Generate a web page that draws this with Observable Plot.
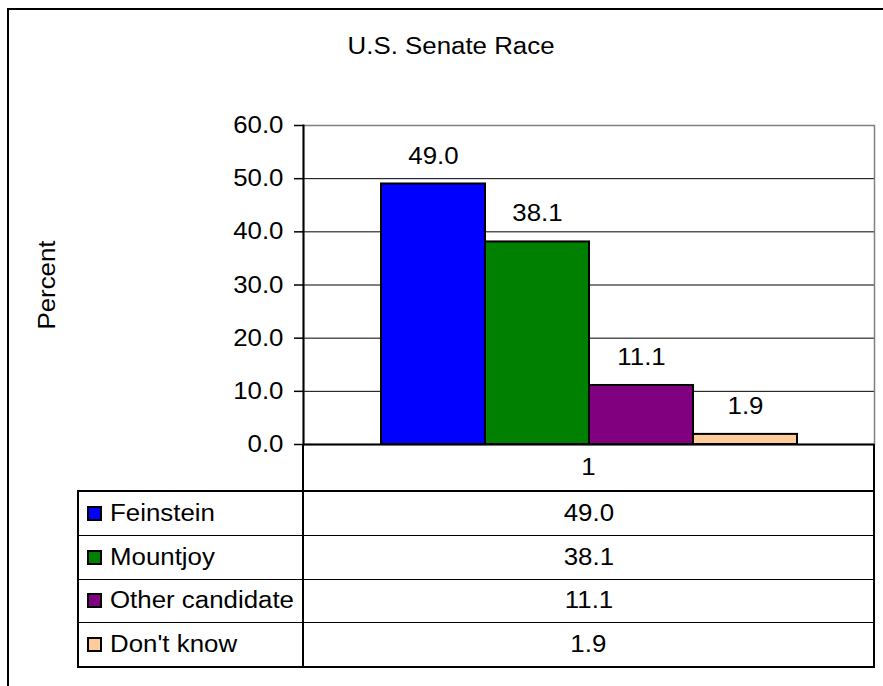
<!DOCTYPE html>
<html>
<head>
<meta charset="utf-8">
<script src="https://cdn.jsdelivr.net/npm/d3@7"></script>
<script src="https://cdn.jsdelivr.net/npm/@observablehq/plot@0.6"></script>
<style>
  html, body { margin: 0; padding: 0; background: #fff; }
  #page { position: relative; width: 883px; height: 686px; overflow: hidden;
          font-family: "Liberation Sans", Arial, sans-serif; color: #000; }
  #frame { position: absolute; left: 7px; top: 8px; width: 1000px; height: 800px;
           border: 2px solid #000; border-right: none; border-bottom: none; box-sizing: border-box; }
  #title { position: absolute; left: 0; width: 902px; top: 32px; text-align: center;
           font-size: 23.5px; line-height: 28px; }
  #chart { position: absolute; left: 0; top: 60px; }
  .s { display: inline-block; transform: scaleX(1.1); white-space: nowrap; }
  .sc { transform-origin: center center; }
  .sl { transform-origin: left center; }
  #cat { position: absolute; left: 302px; top: 444px; width: 573px; height: 47px;
         border-left: 2px solid #000; border-right: 2px solid #000; box-sizing: border-box;
         display: flex; align-items: center; justify-content: center; font-size: 23.5px; }
  #tbody { position: absolute; left: 77px; top: 490px; width: 798px; height: 178px;
           border: 2px solid #000; box-sizing: border-box; display: flex; flex-direction: column;
           font-size: 23.5px; }
  .row { flex: 1; display: flex; }
  .row + .row { border-top: 1px solid #000; }
  .lab { width: 225px; box-sizing: border-box; border-right: 2px solid #000;
         display: flex; align-items: center; padding-left: 8px; }
  .sw { width: 15px; height: 15px; box-sizing: border-box; border: 2px solid #000;
        margin-right: 8px; flex: none; }
  .val { flex: 1; display: flex; align-items: center; justify-content: center; }
</style>
</head>
<body>
<div id="page">
<div id="frame"></div>
<div id="title"><span class="s sc">U.S. Senate Race</span></div>
<div id="chart"></div>
<div id="cat"></div>
<div id="tbody"></div>
</div>
<script>
// ---- data ----
const categories = ["1"];
const series = ["Feinstein", "Mountjoy", "Other candidate", "Don't know"];
const values = [49.0, 38.1, 11.1, 1.9];
const colors = ["#0000ff", "#008000", "#800080", "#ffcc99"];
const yTicks = [0, 10, 20, 30, 40, 50, 60];
const yLabel = "Percent";

const data = series.map((s, i) => ({ series: s, value: values[i], category: categories[0] }));
const fmt = d3.format(".1f");
const FS = 23.5;

const chart = Plot.plot({
  width: 883,
  height: 386,
  marginTop: 65,
  marginBottom: 2,
  marginLeft: 303,
  marginRight: 9,
  style: { fontFamily: "'Liberation Sans', Arial, sans-serif", fontSize: FS + "px", color: "#000",
           background: "transparent", overflow: "visible" },
  x: { domain: series, paddingInner: 0, paddingOuter: 0.745, axis: null },
  y: { domain: [0, 60], axis: null },
  color: { domain: series, range: colors },
  marks: [
    Plot.gridY({ ticks: yTicks.slice(1, -1), stroke: "#000", strokeOpacity: 1, strokeWidth: 1 }),
    Plot.frame({ stroke: "#808080", strokeWidth: 1.5 }),
    Plot.axisY({ ticks: yTicks, tickSize: 9, tickPadding: 11, tickFormat: fmt, label: null,
                 fontSize: FS, stroke: "#000", strokeWidth: 1.5 }),
    Plot.barY(data, { x: "series", y: "value", fill: "series", stroke: "#000", strokeWidth: 2, inset: 0 }),
    Plot.text(data, { x: "series", y: "value", text: d => fmt(d.value), dy: -28, fontSize: FS }),
    Plot.ruleY([0], { stroke: "#000", strokeWidth: 2 }),
    Plot.frame({ anchor: "left", stroke: "#000", strokeWidth: 2 }),
    Plot.text([yLabel], { text: d => d, frameAnchor: "left", rotate: -90, dx: -256,
                          textAnchor: "middle", fontSize: FS })
  ]
});
document.getElementById("chart").appendChild(chart);

// horizontally stretch svg text to match the reference's wide glyphs
const S = 1.1;
chart.querySelectorAll("text").forEach(t => {
  const L = t.getComputedTextLength();
  if (L > 0) {
    t.setAttribute("textLength", L * S);
    t.setAttribute("lengthAdjust", "spacingAndGlyphs");
  }
});

// ---- data table (category row + legend rows) ----
const cat = document.getElementById("cat");
const cs = document.createElement("span");
cs.className = "s sc";
cs.textContent = categories[0];
cat.appendChild(cs);

const tbody = document.getElementById("tbody");
series.forEach((s, i) => {
  const row = document.createElement("div");
  row.className = "row";
  const lab = document.createElement("div");
  lab.className = "lab";
  const sw = document.createElement("span");
  sw.className = "sw";
  sw.style.background = colors[i];
  const lt = document.createElement("span");
  lt.className = "s sl";
  lt.textContent = s;
  lab.appendChild(sw);
  lab.appendChild(lt);
  const val = document.createElement("div");
  val.className = "val";
  const vt = document.createElement("span");
  vt.className = "s sc";
  vt.textContent = fmt(values[i]);
  val.appendChild(vt);
  row.appendChild(lab);
  row.appendChild(val);
  tbody.appendChild(row);
});
</script>
</body>
</html>
